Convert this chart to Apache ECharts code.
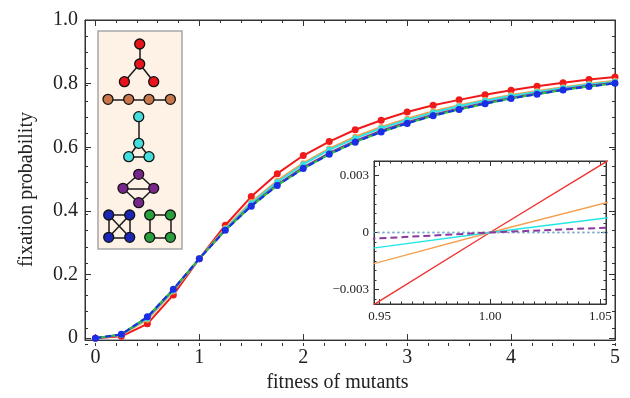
<!DOCTYPE html>
<html lang="en">
<head>
    <meta charset="UTF-8">
    <title>fixation probability</title>
    <script src="https://cdn.jsdelivr.net/npm/echarts@6/dist/echarts.min.js"></script>
    <style>
        html, body { margin: 0; padding: 0; background: #fff; }
        #chart { width: 630px; height: 398px; }
    </style>
</head>
<body>
<div id="chart"></div>
<script type="text/javascript">
    // fitness values (markers every 0.25)
    var fitness = [0, 0.25, 0.5, 0.75, 1, 1.25, 1.5, 1.75, 2, 2.25, 2.5, 2.75, 3, 3.25, 3.5, 3.75, 4, 4.25, 4.5, 4.75, 5];
    var starProb   = [0, 0.006, 0.045, 0.136, 0.25, 0.355, 0.445, 0.517, 0.574, 0.618, 0.655, 0.685, 0.711, 0.732, 0.749, 0.765, 0.779, 0.792, 0.803, 0.813, 0.821];
    var lineProb   = [0, 0.010, 0.058, 0.147, 0.25, 0.346, 0.428, 0.495, 0.550, 0.596, 0.633, 0.664, 0.690, 0.713, 0.732, 0.749, 0.764, 0.777, 0.789, 0.800, 0.809];
    var pawProb    = [0, 0.011, 0.062, 0.150, 0.25, 0.343, 0.424, 0.491, 0.546, 0.592, 0.628, 0.660, 0.686, 0.709, 0.729, 0.746, 0.761, 0.774, 0.786, 0.797, 0.806];
    var diamondProb = [0, 0.0115, 0.065, 0.153, 0.25, 0.340, 0.418, 0.483, 0.537, 0.582, 0.620, 0.652, 0.679, 0.702, 0.722, 0.740, 0.755, 0.769, 0.782, 0.793, 0.803];
    var cycleProb  = [0, 0.012, 0.067, 0.154, 0.25, 0.339, 0.415, 0.480, 0.533, 0.578, 0.616, 0.648, 0.675, 0.699, 0.719, 0.737, 0.753, 0.767, 0.780, 0.791, 0.801];
    var completeProb = [0, 0.012, 0.067, 0.154, 0.25, 0.339, 0.415, 0.480, 0.533, 0.578, 0.616, 0.648, 0.675, 0.699, 0.719, 0.737, 0.753, 0.767, 0.780, 0.791, 0.801];

    // inset: difference from the complete graph near r = 1
    var insetFitness = [0.94, 1.0, 1.06];
    var starDiff    = [-0.00433, 0, 0.00425];
    var lineDiff    = [-0.00187, 0, 0.00179];
    var pawDiff     = [-0.00093, 0, 0.00087];
    var diamondDiff = [-0.00037, 0, 0.00029];
    var cycleDiff   = [0, 0, 0];
    var completeDiff = [0, 0, 0];

    // tick labels
    var xMajor = [0, 1, 2, 3, 4, 5];
    var yMajor = [0, 0.2, 0.4, 0.6, 0.8, 1.0];
    var insetXMajor = [0.95, 1.00, 1.05];
    var insetYMajor = [-0.003, 0, 0.003];

    // small graphs in the left box (box units), links by node index
    var starNodes    = [[4.17, 1.3], [4.17, 3.3], [2.64, 5.07], [5.57, 5.07]];
    var starLinks    = [[0, 1], [1, 2], [1, 3]];
    var lineNodes    = [[1.0, 6.83], [3.07, 6.83], [5.1, 6.83], [7.24, 6.83]];
    var lineLinks    = [[0, 1], [1, 2], [2, 3]];
    var pawNodes     = [[4.07, 8.57], [4.07, 11.23], [3.07, 12.57], [5.1, 12.57]];
    var pawLinks     = [[0, 1], [1, 2], [1, 3], [2, 3]];
    var diamondNodes = [[4.07, 14.33], [2.5, 15.73], [5.57, 15.73], [4.07, 17.17]];
    var diamondLinks = [[0, 1], [0, 2], [1, 2], [1, 3], [2, 3]];
    var completeNodes = [[1.07, 18.4], [3.17, 18.4], [1.07, 20.63], [3.17, 20.63]];
    var completeLinks = [[0, 1], [0, 2], [0, 3], [1, 2], [1, 3], [2, 3]];
    var cycleNodes   = [[5.17, 18.4], [7.24, 18.4], [5.17, 20.63], [7.24, 20.63]];
    var cycleLinks   = [[0, 1], [1, 3], [3, 2], [2, 0]];

    var C = {
        red: '#f01a1a', orange: '#f5a04a', cyan: '#2ee3e3', purple: '#7e2f96',
        green: '#2fbf3a', blue: '#1a2ee6'
    };
    var nodeC = ['#e8141c', '#c8764a', '#45dede', '#77268c', '#1c26b4', '#2a9f3e'];
    var SERIF = '"Liberation Serif", "DejaVu Serif", serif';

    function steps(a, b, s) { // minor tick positions
        var out = [];
        for (var v = a; v <= b + 1e-9; v += s) out.push(Math.round(v * 1e6) / 1e6);
        return out;
    }
    function zip(xs, ys) {
        return xs.map(function (x, i) { return [x, ys[i]]; });
    }

    function frameAxis(o) { // one side of a Mathematica-like frame
        return {
            type: 'value', gridIndex: o.grid, position: o.pos, min: o.min, max: o.max,
            axisLine: { show: !!o.line, onZero: false, lineStyle: { color: '#333', width: 1 } },
            axisTick: { show: true, inside: true, length: o.len || 5, customValues: o.ticks,
                lineStyle: { color: '#333', width: 1 } },
            axisLabel: o.labels ? {
                show: true, customValues: o.labels, formatter: o.fmt, margin: o.margin || 8,
                color: '#222', fontFamily: SERIF, fontSize: o.fs || 20
            } : { show: false },
            splitLine: { show: false },
            name: o.name || '', nameLocation: 'middle', nameGap: o.nameGap || 30,
            nameTextStyle: o.nameStyle || {}
        };
    }

    var mainFmt = function (v) { return v === 0 ? '0' : v.toFixed(1); };
    var insetYFmt = function (v) {
        if (Math.abs(v) < 1e-9) return '0';
        return (v < 0 ? '\u2212' : '') + Math.abs(v).toFixed(3);
    };
    var insetXFmt = function (v) { return v.toFixed(2); };

    var xMinor = steps(0, 5, 0.2), yMinor = steps(0, 1, 0.05);
    var ixMinor = steps(0.95, 1.05, 0.005), iyMinor = steps(-0.0035, 0.0035, 0.0005);
    var X0 = -0.1, X1 = 5, Y0 = -0.006, Y1 = 1.0;
    var IX0 = 0.9475, IX1 = 1.0525, IY0 = -0.00376, IY1 = 0.00376;

    // grids: 0,1 main (major / minor ticks), 2,3 inset (major / minor), 4 box of small graphs
    var xAxes = [
        frameAxis({ grid: 0, pos: 'bottom', min: X0, max: X1, line: true, ticks: xMajor, len: 6, labels: xMajor,
            fmt: function (v) { return String(v); }, margin: 8,
            name: 'fitness of mutants', nameGap: 29,
            nameStyle: { fontFamily: SERIF, fontSize: 20, color: '#222', padding: [0, 25, 0, 0] } }),
        frameAxis({ grid: 0, pos: 'top', min: X0, max: X1, line: true, ticks: xMajor, len: 6 }),
        frameAxis({ grid: 1, pos: 'bottom', min: X0, max: X1, ticks: xMinor, len: 3 }),
        frameAxis({ grid: 1, pos: 'top', min: X0, max: X1, ticks: xMinor, len: 3 }),
        frameAxis({ grid: 2, pos: 'bottom', min: IX0, max: IX1, line: true, ticks: insetXMajor, len: 5,
            labels: insetXMajor, fmt: insetXFmt, fs: 13, margin: 6 }),
        frameAxis({ grid: 2, pos: 'top', min: IX0, max: IX1, line: true, ticks: insetXMajor, len: 5 }),
        frameAxis({ grid: 3, pos: 'bottom', min: IX0, max: IX1, ticks: ixMinor, len: 2.5 }),
        frameAxis({ grid: 3, pos: 'top', min: IX0, max: IX1, ticks: ixMinor, len: 2.5 }),
        { type: 'value', gridIndex: 4, min: 0, max: 8.4, show: false }
    ];
    var yAxes = [
        frameAxis({ grid: 0, pos: 'left', min: Y0, max: Y1, line: true, ticks: yMajor, len: 6, labels: yMajor,
            fmt: mainFmt, margin: 7,
            name: 'fixation probability', nameGap: 48,
            nameStyle: { fontFamily: SERIF, fontSize: 20, color: '#222', padding: [0, 19, 0, 0] } }),
        frameAxis({ grid: 0, pos: 'right', min: Y0, max: Y1, line: true, ticks: yMajor, len: 6 }),
        frameAxis({ grid: 1, pos: 'left', min: Y0, max: Y1, ticks: yMinor, len: 3 }),
        frameAxis({ grid: 1, pos: 'right', min: Y0, max: Y1, ticks: yMinor, len: 3 }),
        frameAxis({ grid: 2, pos: 'left', min: IY0, max: IY1, line: true, ticks: insetYMajor, len: 5,
            labels: insetYMajor, fmt: insetYFmt, fs: 13, margin: 5 }),
        frameAxis({ grid: 2, pos: 'right', min: IY0, max: IY1, line: true, ticks: insetYMajor, len: 5 }),
        frameAxis({ grid: 3, pos: 'left', min: IY0, max: IY1, ticks: iyMinor, len: 2.5 }),
        frameAxis({ grid: 3, pos: 'right', min: IY0, max: IY1, ticks: iyMinor, len: 2.5 }),
        { type: 'value', gridIndex: 4, min: 0, max: 21.8, inverse: true, show: false }
    ];

    function mainLine(name, data, color, size, dash, z) {
        return {
            name: name, type: 'line', xAxisIndex: 0, yAxisIndex: 0, data: zip(fitness, data),
            symbol: 'circle', symbolSize: size, showSymbol: size > 0, z: z,
            itemStyle: { color: color },
            lineStyle: { color: color, width: 2, type: dash || 'solid' }
        };
    }
    function insetLine(name, data, color, dash, width, z) {
        return {
            name: name, type: 'line', xAxisIndex: 4, yAxisIndex: 4, data: zip(insetFitness, data),
            showSymbol: false, clip: true, z: z,
            lineStyle: { color: color, width: width || 1.3, type: dash || 'solid' }
        };
    }

    // build one graph series from the small network diagrams
    var groups = [
        [starNodes, starLinks], [lineNodes, lineLinks], [pawNodes, pawLinks],
        [diamondNodes, diamondLinks], [completeNodes, completeLinks], [cycleNodes, cycleLinks]
    ];
    var gNodes = [], gLinks = [];
    groups.forEach(function (g, k) {
        var base = gNodes.length;
        g[0].forEach(function (p) {
            gNodes.push({ value: p, itemStyle: { color: nodeC[k] } });
        });
        g[1].forEach(function (l) {
            gLinks.push({ source: base + l[0], target: base + l[1] });
        });
    });

    var option = {
        animation: false,
        backgroundColor: '#fff',
        grid: [
            { left: 85, right: 15, top: 20, bottom: 52, show: true, backgroundColor: 'transparent',
                borderColor: '#333', borderWidth: 1 },
            { left: 85, right: 15, top: 20, bottom: 52 },
            { left: 374, top: 161, width: 232, height: 143, show: true, backgroundColor: '#fff',
                borderColor: '#333', borderWidth: 1 },
            { left: 374, top: 161, width: 232, height: 143 },
            { left: 98, top: 31, width: 84, height: 218, show: true, backgroundColor: '#fdf2e5',
                borderColor: '#a6a6a6', borderWidth: 1.5 }
        ],
        xAxis: xAxes,
        yAxis: yAxes,
        series: [
            mainLine('star', starProb, C.red, 7, null, 2),
            mainLine('line', lineProb, C.orange, 6, null, 3),
            mainLine('paw', pawProb, C.cyan, 6, null, 4),
            mainLine('diamond', diamondProb, C.purple, 5, null, 5),
            mainLine('cycle', cycleProb, C.green, 5, null, 6),
            mainLine('complete', completeProb, C.blue, 7, [6, 4], 7),

            insetLine('star', starDiff, '#f03434', null, 1.4, 10),
            insetLine('line', lineDiff, '#f5a050', null, 1.4, 10),
            insetLine('paw', pawDiff, '#22e6e6', null, 1.4, 10),
            insetLine('cycle', cycleDiff, '#55cc55', [2, 3], 1.4, 10),
            insetLine('complete', completeDiff, '#8c9cff', [2, 3], 1.4, 11),
            insetLine('diamond', diamondDiff, '#8a3a9e', [7, 4], 2, 12),

            {
                type: 'graph', coordinateSystem: 'cartesian2d', xAxisIndex: 8, yAxisIndex: 8,
                data: gNodes, links: gLinks, symbol: 'circle', symbolSize: 10, z: 20,
                itemStyle: { borderColor: '#111', borderWidth: 1.3 },
                lineStyle: { color: '#1a1a1a', width: 1.5, opacity: 1 },
                label: { show: false }, silent: true
            }
        ]
    };

    var chart = echarts.init(document.getElementById('chart'));
    chart.setOption(option);
</script>
</body>
</html>
